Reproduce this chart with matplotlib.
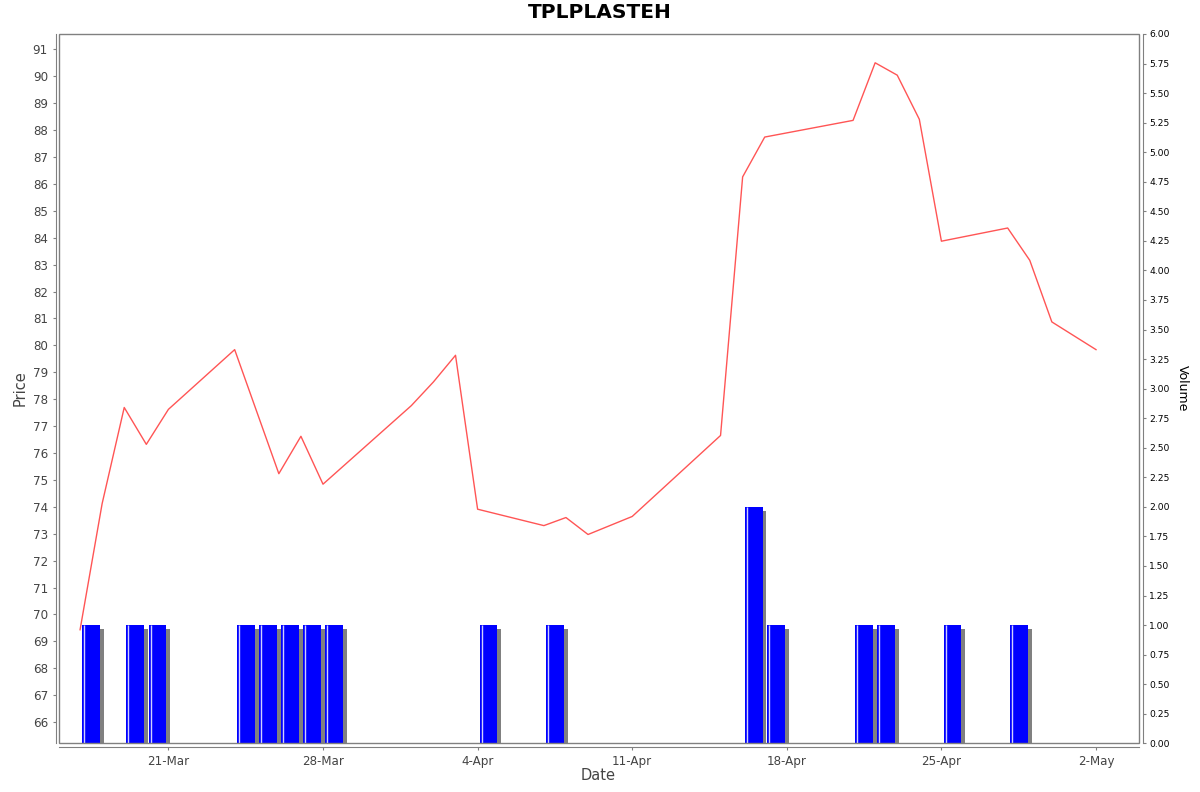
import datetime as dt
import matplotlib
matplotlib.use("Agg")
import matplotlib.pyplot as plt
import matplotlib.dates as mdates
from matplotlib.patches import Rectangle
from matplotlib.ticker import FormatStrFormatter, MultipleLocator

# Цена закрытия
price_dates = ["2025-03-17", "2025-03-18", "2025-03-19", "2025-03-20", "2025-03-21",
               "2025-03-24", "2025-03-26", "2025-03-27", "2025-03-28", "2025-04-01",
               "2025-04-02", "2025-04-03", "2025-04-04", "2025-04-07", "2025-04-08",
               "2025-04-09", "2025-04-11", "2025-04-15", "2025-04-16", "2025-04-17",
               "2025-04-21", "2025-04-22", "2025-04-23", "2025-04-24", "2025-04-25",
               "2025-04-28", "2025-04-29", "2025-04-30", "2025-05-02"]
prices = [69.43, 74.12, 77.69, 76.32, 77.62,
          79.84, 75.23, 76.62, 74.84, 77.76,
          78.64, 79.63, 73.91, 73.30, 73.60,
          72.97, 73.64, 76.65, 86.26, 87.74,
          88.36, 90.50, 90.04, 88.40, 83.87,
          84.36, 83.16, 80.87, 79.84]

# Объём
volume_dates = ["2025-03-17", "2025-03-19", "2025-03-20", "2025-03-24", "2025-03-25",
                "2025-03-26", "2025-03-27", "2025-03-28", "2025-04-04", "2025-04-07",
                "2025-04-16", "2025-04-17", "2025-04-21", "2025-04-22", "2025-04-25",
                "2025-04-28"]
volumes = [1, 1, 1, 1, 1, 1, 1, 1, 1, 1, 2, 1, 1, 1, 1, 1]

week_ticks = ["2025-03-21", "2025-03-28", "2025-04-04", "2025-04-11",
              "2025-04-18", "2025-04-25", "2025-05-02"]

to_num = lambda s: mdates.date2num(dt.datetime.strptime(s, "%Y-%m-%d"))
px = [to_num(d) for d in price_dates]
vx = [to_num(d) for d in volume_dates]

grey = "#808080"
txt = "#444444"

fig = plt.figure(figsize=(12, 7.92), dpi=100)
ax = fig.add_axes([59.3 / 1200, 1 - 743.3 / 792, 1080 / 1200, 709.3 / 792])
ax2 = ax.twinx()
ax.set_zorder(ax2.get_zorder() + 1)
ax.patch.set_visible(False)

# Столбцы объёма с тенью
ax2.bar([x + 0.28 for x in vx], [v - 0.034 for v in volumes], width=0.8,
        align="edge", color=grey, zorder=1)
ax2.bar([x + 0.1 for x in vx], volumes, width=0.8, align="edge",
        color="#0000ff", zorder=2)
ax2.vlines([x + 0.1 + 0.09 for x in vx], 0, volumes, color="#d0d0ff",
           lw=1, zorder=3)
ax2.set_ylim(0, 6)
ax2.yaxis.set_major_locator(MultipleLocator(0.25))
ax2.yaxis.set_major_formatter(FormatStrFormatter("%.2f"))
ax2.tick_params(axis="y", direction="out", length=2.5, color=grey,
                labelsize=6.6, labelcolor="black", pad=2)
for s in ["top", "left", "bottom"]:
    ax2.spines[s].set_visible(False)
ax2.spines["right"].set_position(("outward", 2.7))
ax2.spines["right"].set_color(grey)

# Линия цены
ax.plot(px, prices, color="#ff5555", lw=1)
ax.set_ylim(65.21, 91.57)
ax.set_xlim(to_num("2025-03-17") - 0.94, to_num("2025-05-02") + 1.96)
ax.yaxis.set_major_locator(MultipleLocator(1))
ax.set_xticks([to_num(d) for d in week_ticks])
ax.xaxis.set_major_formatter(mdates.DateFormatter("%-d-%b"))
ax.tick_params(axis="both", direction="out", length=2.5, color=grey,
               labelsize=8.6, labelcolor=txt, pad=3)
for s in ["top", "right"]:
    ax.spines[s].set_visible(False)
for s in ["left", "bottom"]:
    ax.spines[s].set_position(("outward", 2.7))
    ax.spines[s].set_color(grey)
ax.add_patch(Rectangle((0, 0), 1, 1, transform=ax.transAxes, fill=False,
                       edgecolor=grey, lw=1, clip_on=False, zorder=5))

fig.text(0.5, 1 - 13 / 792, "TPLPLASTEH", ha="center", va="center",
         fontsize=14.5, fontweight="bold", color="black")
fig.text(20 / 1200, 1 - 388 / 792, "Price", ha="center", va="center",
         rotation=90, fontsize=10.5, color=txt)
fig.text(598 / 1200, 1 - 776 / 792, "Date", ha="center", va="center",
         fontsize=10.5, color=txt)
fig.text(1182 / 1200, 1 - 388 / 792, "Volume", ha="center", va="center",
         rotation=-90, fontsize=9, color="black")

fig.savefig("out.png", dpi=100)
